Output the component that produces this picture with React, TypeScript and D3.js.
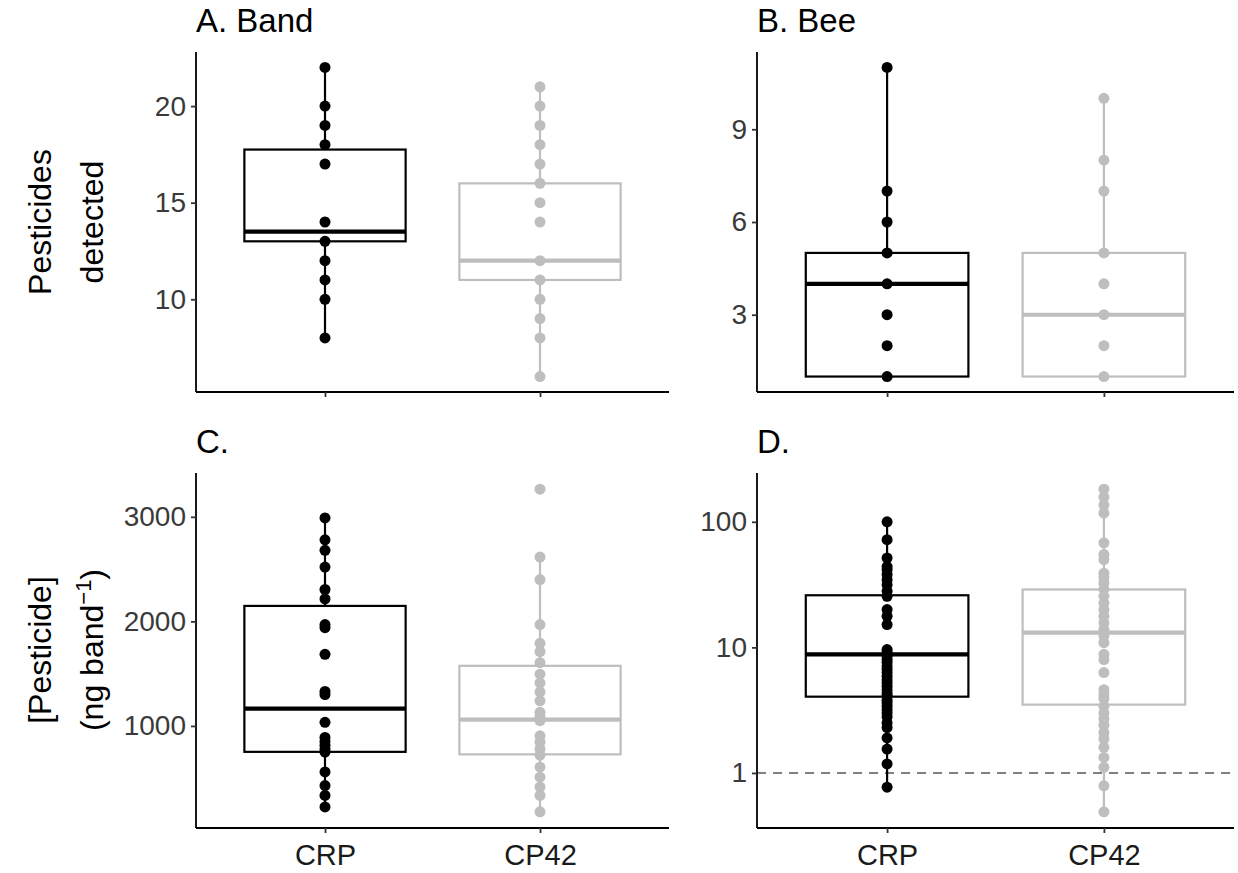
import { useEffect, useRef } from "react";
import * as d3 from "d3";

// categories
const groups = ["CRP", "CP42"];
const colors = ["#000000", "#BEBEBE"];

// A. pesticides detected per band
const bandCRP = [22, 20, 19, 18, 17, 14, 13, 12, 11, 10, 8];
const bandCP42 = [21, 20, 19, 18, 17, 16, 15, 14, 12, 11, 10, 9, 8, 6];
// box stats: [lower whisker, q1, median, q3, upper whisker]
const bandBoxCRP = [8, 13, 13.5, 17.75, 22];
const bandBoxCP42 = [6, 11, 12, 16, 21];

// B. pesticides detected per bee
const beeCRP = [11, 7, 6, 5, 4, 3, 2, 1];
const beeCP42 = [10, 8, 7, 5, 4, 3, 2, 1];
const beeBoxCRP = [1, 1, 4, 5, 11];
const beeBoxCP42 = [1, 1, 3, 5, 10];

// C. concentration in band (ng band^-1)
const concCRP = [2990, 2780, 2680, 2520, 2305, 2215, 1970, 1940, 1685, 1330, 1300, 1035, 890, 850, 815, 780, 750, 560, 430, 335, 225];
const concCP42 = [3265, 2615, 2400, 1970, 1790, 1710, 1605, 1495, 1410, 1325, 1240, 1130, 1090, 1050, 905, 845, 780, 720, 605, 510, 415, 335, 178];
const concBoxCRP = [225, 752, 1165, 2148, 2990];
const concBoxCP42 = [178, 728, 1060, 1575, 2615];

// D. concentration in bee (log axis)
const beeConcCRP = [100, 72, 51.5, 44, 41.5, 38, 34.5, 31.5, 28, 25.5, 20, 17.7, 15.2, 9.6, 9.2, 8.5, 8.0, 7.6, 7.1, 6.7, 6.3, 5.9, 5.5, 5.2, 4.9, 4.6, 4.3, 4.1, 3.8, 3.6, 3.4, 3.2, 3.0, 2.8, 2.5, 2.3, 1.9, 1.55, 1.18, 0.77];
const beeConcCP42 = [182, 157, 136, 117, 68, 55, 50, 39, 36, 32.5, 29, 25.5, 22.5, 20, 17.7, 15.7, 13.9, 13.1, 12.3, 10.9, 8.8, 8.0, 6.3, 4.6, 4.2, 3.9, 3.4, 3.0, 2.7, 2.4, 2.1, 1.86, 1.6, 1.33, 1.11, 0.79, 0.49];
const beeConcBoxCRP = [0.77, 4.05, 8.8, 26, 100];
const beeConcBoxCP42 = [0.49, 3.5, 13.1, 28.9, 182];

const yTicksA = [10, 15, 20];
const yTicksB = [3, 6, 9];
const yTicksC = [1000, 2000, 3000];
const yTicksD = [1, 10, 100];

const FONT = "'Liberation Sans', Arial, sans-serif";

const panels = [
  { title: "A. Band", left: 196, top: 52, right: 669, bottom: 392, log: false, values: [bandCRP, bandCP42], boxes: [bandBoxCRP, bandBoxCP42], ticks: yTicksA, xLabels: false, refLine: null },
  { title: "B. Bee", left: 757, top: 52, right: 1234, bottom: 392, log: false, values: [beeCRP, beeCP42], boxes: [beeBoxCRP, beeBoxCP42], ticks: yTicksB, xLabels: false, refLine: null },
  { title: "C.", left: 196, top: 473, right: 669, bottom: 828, log: false, values: [concCRP, concCP42], boxes: [concBoxCRP, concBoxCP42], ticks: yTicksC, xLabels: true, refLine: null },
  { title: "D.", left: 757, top: 473, right: 1234, bottom: 828, log: true, values: [beeConcCRP, beeConcCP42], boxes: [beeConcBoxCRP, beeConcBoxCP42], ticks: yTicksD, xLabels: true, refLine: 1 },
];

const App = () => {
  const ref = useRef<SVGSVGElement | null>(null);

  useEffect(() => {
    const svg = d3.select(ref.current);
    svg.selectAll("*").remove();

    panels.forEach((p) => {
      const all = p.values.flat();
      const [mn, mx] = d3.extent(all) as [number, number];
      let y: any;
      if (p.log) {
        const lo = Math.log10(mn), hi = Math.log10(mx), pad = (hi - lo) * 0.05;
        y = d3.scaleLog().domain([10 ** (lo - pad), 10 ** (hi + pad)]).range([p.bottom, p.top]);
      } else {
        const pad = (mx - mn) * 0.05;
        y = d3.scaleLinear().domain([mn - pad, mx + pad]).range([p.bottom, p.top]);
      }
      const x = d3.scalePoint().domain(groups).range([p.left, p.right]).padding(0.6);
      const boxW = x.step() * 0.75;

      const g = svg.append("g");

      if (p.refLine !== null) {
        g.append("line")
          .attr("x1", p.left).attr("x2", p.right)
          .attr("y1", y(p.refLine)).attr("y2", y(p.refLine))
          .attr("stroke", "#808080").attr("stroke-width", 2)
          .attr("stroke-dasharray", "9,7");
      }

      groups.forEach((grp, i) => {
        const [lo, q1, med, q3, hi] = p.boxes[i];
        const cx = x(grp) as number;
        const c = colors[i];
        g.append("line").attr("x1", cx).attr("x2", cx).attr("y1", y(hi)).attr("y2", y(q3))
          .attr("stroke", c).attr("stroke-width", 2.2);
        g.append("line").attr("x1", cx).attr("x2", cx).attr("y1", y(q1)).attr("y2", y(lo))
          .attr("stroke", c).attr("stroke-width", 2.2);
        g.append("rect")
          .attr("x", cx - boxW / 2).attr("width", boxW)
          .attr("y", y(q3)).attr("height", y(q1) - y(q3))
          .attr("fill", "white").attr("stroke", c).attr("stroke-width", 2.2);
        g.append("line").attr("x1", cx - boxW / 2).attr("x2", cx + boxW / 2)
          .attr("y1", y(med)).attr("y2", y(med))
          .attr("stroke", c).attr("stroke-width", 4.2);
        g.selectAll(null).data(p.values[i]).enter().append("circle")
          .attr("cx", cx).attr("cy", (d) => y(d)).attr("r", 5.5).attr("fill", c);
      });

      // axes
      const yAxis = g.append("g").attr("transform", `translate(${p.left},0)`)
        .call(d3.axisLeft(y).tickValues(p.ticks).tickSize(5).tickPadding(5).tickFormat(d3.format("d")));
      const xAxis = g.append("g").attr("transform", `translate(0,${p.bottom})`)
        .call(d3.axisBottom(x).tickSize(5).tickPadding(11));
      [yAxis, xAxis].forEach((ax) => {
        ax.select(".domain").attr("stroke", "#000").attr("stroke-width", 1.8)
          .attr("d", ax === yAxis ? `M0,${p.top}V${p.bottom}` : `M${p.left},0H${p.right}`);
        ax.selectAll(".tick line").attr("stroke", "#333").attr("stroke-width", 1.8);
        ax.selectAll(".tick text").attr("fill", "#3a3a3a").style("font-family", FONT).style("font-size", "28px");
      });
      xAxis.selectAll(".tick text").attr("fill", "#1a1a1a").style("font-size", "29px");
      if (!p.xLabels) xAxis.selectAll(".tick text").remove();

      g.append("text").attr("x", p.left).attr("y", p.top - 20)
        .style("font-family", FONT).style("font-size", "33px").attr("fill", "#000")
        .text(p.title);
    });

    const ylab = (lines: ((t: any) => void)[], cy: number) => {
      const xs = [51, 103];
      lines.forEach((fill, k) => {
        const t = svg.append("text")
          .attr("transform", `translate(${xs[k]},${cy}) rotate(-90)`)
          .attr("text-anchor", "middle")
          .style("font-family", FONT).style("font-size", "32px").attr("fill", "#000");
        fill(t);
      });
    };
    ylab([(t) => t.text("Pesticides"), (t) => t.text("detected")], 222);
    ylab([
      (t) => t.text("[Pesticide]"),
      (t) => {
        t.append("tspan").text("(ng band");
        t.append("tspan").attr("dy", -12).style("font-size", "22px").text("\u22121");
        t.append("tspan").attr("dy", 12).text(")");
      },
    ], 650);
  }, []);

  return (
    <svg ref={ref} width={1238} height={873}
      style={{ position: "absolute", left: 0, top: 0, background: "white" }} />
  );
};

export default App;
